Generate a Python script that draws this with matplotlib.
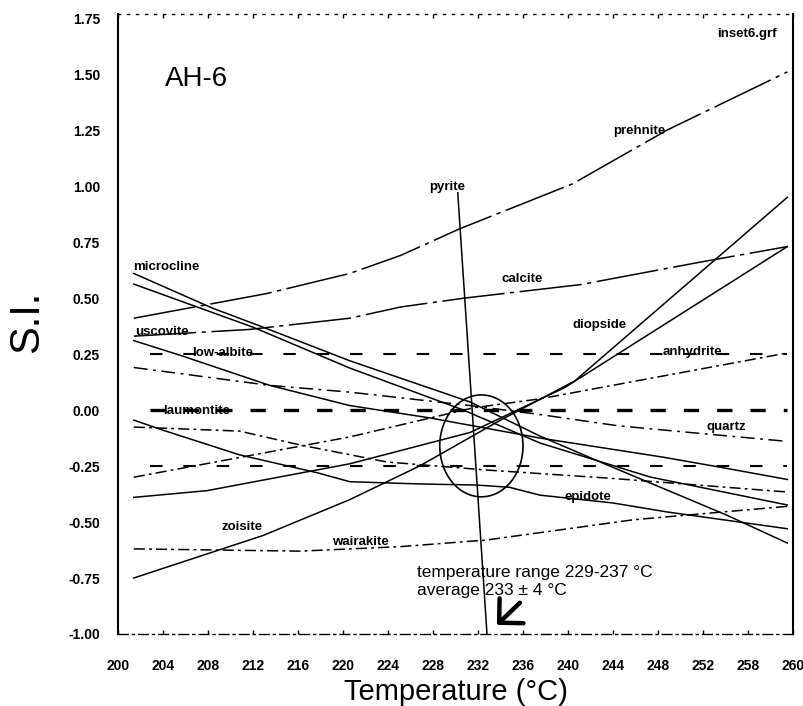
import matplotlib
matplotlib.use("Agg")
import matplotlib.pyplot as plt
from matplotlib.patches import Ellipse
from matplotlib.ticker import FixedLocator, FixedFormatter

plt.rcParams['font.family'] = ['Liberation Sans', 'DejaVu Sans']
plt.rcParams['lines.scale_dashes'] = False

# saturation index curves (temperature in degC, S.I.)
prehnite_t = [201.4, 213.2, 220.6, 225.1, 230.4, 240.4, 248.8, 259.5]
prehnite_si = [0.41, 0.52, 0.61, 0.69, 0.81, 1.01, 1.25, 1.51]

calcite_t = [201.4, 211.7, 220.6, 225.1, 230.8, 241.1, 251.7, 259.5]
calcite_si = [0.33, 0.36, 0.41, 0.46, 0.50, 0.56, 0.66, 0.73]

wairakite_t = [201.4, 216.2, 225.1, 232.8, 245.8, 259.5]
wairakite_si = [-0.62, -0.63, -0.61, -0.58, -0.49, -0.43]

zoisite_t = [201.4, 212.9, 220.6, 226.8, 234.0, 240.6, 259.5]
zoisite_si = [-0.75, -0.56, -0.40, -0.25, -0.045, 0.13, 0.95]

diopside_t = [201.4, 207.9, 220.6, 231.3, 239.7, 259.5]
diopside_si = [-0.39, -0.36, -0.24, -0.10, 0.10, 0.73]

anhydrite_t = [201.4, 220.6, 231.6, 237.5, 259.5]
anhydrite_si = [-0.30, -0.12, 0.01, 0.05, 0.255]

quartz_t = [201.4, 213.5, 220.6, 231.3, 237.5, 244.4, 250.8, 259.5]
quartz_si = [0.19, 0.11, 0.08, 0.02, -0.02, -0.07, -0.10, -0.14]

epidote_t = [201.4, 204.0, 210.8, 217.7, 220.6, 226.8, 231.9, 234.8, 237.5, 244.0, 248.8, 259.5]
epidote_si = [-0.045, -0.09, -0.20, -0.28, -0.32, -0.33, -0.335, -0.345, -0.38, -0.415, -0.455, -0.53]

microcline_t = [201.4, 208.4, 212.9, 220.6, 231.3, 237.5, 243.1, 254.1, 259.5]
microcline_si = [0.61, 0.455, 0.37, 0.22, 0.036, -0.116, -0.237, -0.469, -0.594]

low_albite_t = [201.4, 212.0, 220.6, 230.7, 237.5, 247.3, 259.5]
low_albite_si = [0.5625, 0.37, 0.1875, 0.0, -0.147, -0.299, -0.424]

muscovite_t = [201.4, 205.5, 213.5, 220.6, 227.7, 237.5, 248.4, 253.5, 259.5]
muscovite_si = [0.31, 0.245, 0.11, 0.02, -0.035, -0.125, -0.21, -0.255, -0.31]

laumontite_t = [201.4, 210.8, 216.2, 223.9, 232.8, 243.6, 259.5]
laumontite_si = [-0.076, -0.094, -0.156, -0.232, -0.268, -0.304, -0.366]

pyrite_t = [230.2, 232.8]
pyrite_si = [0.97, -1.0]

# equilibrium reference levels
ref_levels = [0.25, 0.0, -0.25]
ref_t = [202.8, 259.5]

# equilibrium zone marked on the scan
zone_t, zone_si = 232.3, -0.16
zone_dt, zone_dsi = 7.4, 0.455

x_ticks = list(range(200, 261, 4))
x_labels = ['200', '204', '208', '212', '216', '220', '224', '228', '232',
            '236', '240', '244', '248', '252', '258', '260']
y_ticks = [-1.0, -0.75, -0.5, -0.25, 0.0, 0.25, 0.5, 0.75, 1.0, 1.25, 1.5, 1.75]

curve_labels = [
    ('microcline', 201.3, 0.638),
    ('uscovite', 201.5, 0.348),
    ('low-albite', 206.6, 0.254),
    ('laumontite', 204.0, -0.004),
    ('pyrite', 227.7, 0.995),
    ('prehnite', 244.0, 1.245),
    ('calcite', 234.1, 0.585),
    ('diopside', 240.4, 0.38),
    ('anhydrite', 248.4, 0.259),
    ('quartz', 252.3, -0.076),
    ('epidote', 239.7, -0.388),
    ('zoisite', 209.2, -0.522),
    ('wairakite', 219.0, -0.59),
    ('inset6.grf', 253.3, 1.68),
]

dashdot = (0, (8, 3, 2, 3))
gappy = (0, (45, 4, 3, 4))

fig = plt.figure(figsize=(8.04, 7.06), dpi=100)
ax = fig.add_axes([0.1468, 0.1020, 0.8395, 0.8780])

lw = 1.1
ax.plot(prehnite_t, prehnite_si, color='black', lw=lw, ls=gappy)
ax.plot(calcite_t, calcite_si, color='black', lw=lw, ls=gappy)
ax.plot(wairakite_t, wairakite_si, color='black', lw=lw, ls=dashdot)
ax.plot(zoisite_t, zoisite_si, color='black', lw=lw)
ax.plot(diopside_t, diopside_si, color='black', lw=lw)
ax.plot(anhydrite_t, anhydrite_si, color='black', lw=lw, ls=dashdot)
ax.plot(quartz_t, quartz_si, color='black', lw=lw, ls=(0, (10, 4, 2, 4)))
ax.plot(epidote_t, epidote_si, color='black', lw=lw)
ax.plot(microcline_t, microcline_si, color='black', lw=lw)
ax.plot(low_albite_t, low_albite_si, color='black', lw=lw)
ax.plot(muscovite_t, muscovite_si, color='black', lw=lw)
ax.plot(laumontite_t, laumontite_si, color='black', lw=lw, ls=dashdot)
ax.plot(pyrite_t, pyrite_si, color='black', lw=lw)

for level in ref_levels:
    if level == 0.0:
        ax.plot(ref_t, [level, level], color='black', lw=2.4, ls=(0, (11, 13)))
    else:
        ax.plot(ref_t, [level, level], color='black', lw=1.5, ls=(0, (9, 15)))

ax.add_patch(Ellipse((zone_t, zone_si), zone_dt, zone_dsi, fill=False,
                     edgecolor='black', lw=1.2))

for name, t, si in curve_labels:
    ax.text(t, si, name, fontsize=9.5, fontweight='bold', ha='left', va='center')

ax.text(204.2, 1.48, 'AH-6', fontsize=20, ha='left', va='center')
ax.text(226.6, -0.766, 'temperature range 229-237 °C\naverage 233 ± 4 °C',
        fontsize=12.5, ha='left', va='center', linespacing=1.2)
ax.annotate('', xy=(233.5, -0.968), xytext=(235.9, -0.852),
            arrowprops=dict(arrowstyle='->,head_length=0.62,head_width=0.62',
                            mutation_scale=20, lw=3.2, color='black'))

ax.set_xlim(200, 260)
ax.set_ylim(-1.0, 1.768)

ax.xaxis.set_major_locator(FixedLocator(x_ticks))
ax.xaxis.set_major_formatter(FixedFormatter(x_labels))
ax.set_yticks(y_ticks)
ax.set_yticklabels([f'{v:.2f}' for v in y_ticks])
ax.tick_params(axis='x', direction='in', length=3, width=1, pad=18,
               labelsize=10, top=True)
ax.tick_params(axis='y', length=0, pad=13, labelsize=10)
for lab in ax.get_xticklabels() + ax.get_yticklabels():
    lab.set_fontweight('bold')

for side in ['left', 'right']:
    ax.spines[side].set_linewidth(1.5)
ax.spines['top'].set_linestyle((0, (1.5, 5)))
ax.spines['top'].set_linewidth(1.0)
ax.spines['bottom'].set_linestyle((0, (7, 3, 1.5, 3)))
ax.spines['bottom'].set_linewidth(1.0)

ax.set_xlabel('Temperature (°C)', fontsize=21)
ax.xaxis.set_label_coords(0.5, -0.1065)
ax.xaxis.label.set_va('baseline')
ax.set_ylabel('S.I.', fontsize=30)
ax.yaxis.set_label_coords(-0.135, 0.503)
ax.yaxis.label.set_va('center')
ax.yaxis.label.set_rotation_mode('default')

fig.savefig('out.png', dpi=100)
